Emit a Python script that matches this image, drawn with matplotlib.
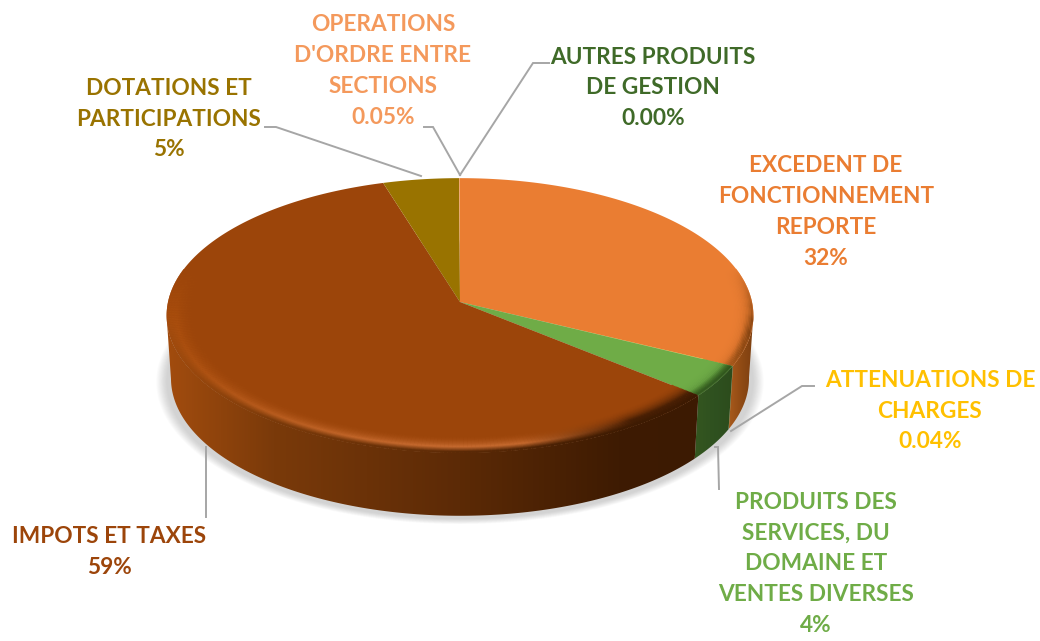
import numpy as np
import matplotlib
matplotlib.use("Agg")
import matplotlib.pyplot as plt
from matplotlib.collections import LineCollection
from matplotlib.colors import LinearSegmentedColormap, to_rgb
from matplotlib.patches import Polygon

plt.rcParams["font.family"] = ["Lato", "DejaVu Sans"]

categories = ["EXCEDENT DE FONCTIONNEMENT REPORTE", "ATTENUATIONS DE CHARGES",
              "PRODUITS DES SERVICES, DU DOMAINE ET VENTES DIVERSES",
              "IMPOTS ET TAXES", "DOTATIONS ET PARTICIPATIONS",
              "OPERATIONS D'ORDRE ENTRE SECTIONS", "AUTRES PRODUITS DE GESTION"]
values = [32.4, 0.04, 3.7, 59.2, 4.6, 0.05, 0.0]
top_colors = ["#ea7d32", "#ffc000", "#6fac47", "#9c450a", "#997300", "#f4995c", "#3f6a28"]

# side wall colours, left to right
side_colors = {
    0: ["#a85a1c", "#8f4a14", "#7c3f10"],
    1: ["#7f6000", "#7f6000", "#7f6000"],
    2: ["#34561f", "#2f5120", "#2c4c1c"],
    3: [(0, "#a24c0e"), (0.2, "#7a3a0a"), (0.55, "#5c2a06"), (0.85, "#3e1b02"), (1, "#3c1a02")],
}

# perspective of the pie, in pixels
CX, CY = 460, 302
A, B, K = 292, 136, 0.098
DEPTH = 63


def project(u, v):
    w = 1 + K * v
    return CX + A * u / w, CY - B * v / w


def blend(c1, c2, t):
    return tuple(np.array(to_rgb(c1)) * (1 - t) + np.array(to_rgb(c2)) * t)


fig = plt.figure(figsize=(10.4, 6.41), dpi=100)
ax = fig.add_axes([0, 0, 1, 1])

wedges, _ = ax.pie(values, startangle=90, counterclock=False, colors=top_colors)
thetas = [(w.theta1, w.theta2) for w in wedges]
for w in wedges:
    w.remove()

# soft shadow under the pie
t = np.radians(np.linspace(0, 360, 361))
sx, sy = project(np.cos(t), np.sin(t))
for grow in np.linspace(1.035, 1.0, 12):
    ax.add_patch(Polygon(np.c_[CX + (sx - CX) * grow, CY + DEPTH + 3 + (sy - CY) * grow],
                         fc="#808080", ec="none", alpha=0.03, zorder=1))

# side walls, starting where the rim is widest
wall_maps = {}
wall_span = {}
for i, (th1, th2) in enumerate(thetas):
    if i not in side_colors:
        continue
    t = np.radians(np.linspace(th1, th2, 300))
    t = t[np.sin(t) < -0.09]
    if len(t) < 2:
        continue
    rx, ry = project(np.cos(t), np.sin(t))
    bx = CX + (rx - CX) * 0.985
    outline = np.r_[np.c_[rx, ry], np.c_[bx, ry + DEPTH][::-1]]
    cmap = LinearSegmentedColormap.from_list("side", side_colors[i])
    x0, x1 = outline[:, 0].min(), outline[:, 0].max()
    wall_maps[i] = cmap
    wall_span[i] = (x0, x1)
    img = ax.imshow(np.linspace(0, 1, 256)[None, :], cmap=cmap, aspect="auto",
                    extent=(x0, x1, outline[:, 1].max(), outline[:, 1].min()), zorder=2)
    clip = Polygon(outline, transform=ax.transData, fc="none", ec="none")
    ax.add_patch(clip)
    img.set_clip_path(clip)

# top faces
for i, (th1, th2) in enumerate(thetas):
    if values[i] == 0:
        continue
    t = np.radians(np.linspace(th1, th2, 300))
    px, py = project(np.r_[0, np.cos(t)], np.r_[0, np.sin(t)])
    ax.add_patch(Polygon(np.c_[px, py], fc=top_colors[i], ec="none", zorder=3))

# rounded rim along the front of the top face
rim_steps = np.linspace(0.90, 0.996, 20)
for i, (th1, th2) in enumerate(thetas):
    if values[i] < 1:
        continue
    t = np.radians(np.linspace(th1, th2, 300))
    t = t[np.sin(t) < 0.25]
    if len(t) < 2:
        continue
    for r in rim_steps:
        x, y = project(r * np.cos(t), r * np.sin(t))
        pts = np.c_[x, y]
        segs = np.stack([pts[:-1], pts[1:]], axis=1)
        ramp = (r - rim_steps[0]) / (rim_steps[-1] - rim_steps[0])
        tm = t[:-1]
        fade = np.clip((0.25 - np.sin(tm)) / 0.4, 0, 1)
        if i == 3:
            # warm on the left, lightest at the front, dark towards the right
            front = np.clip(-np.sin(tm), 0, 1) ** 2
            right = np.clip((np.cos(tm) - 0.2) / 0.35, 0, 1)
            rim_col = [blend(blend("#b4540f", "#c76b30", f), "#4a2004", q)
                       for f, q in zip(front, right)]
            strength = np.clip(ramp / 0.7, 0, 1) ** 2 * (0.55 + 0.45 * front) * fade
            strength = np.maximum(strength, np.clip(ramp / 0.7, 0, 1) ** 2 * right)
        elif i == 0:
            rim_col = ["#8f4a14"] * len(tm)
            strength = ramp ** 5 * fade
        else:
            rim_col = ["#3f6a28"] * len(tm)
            strength = ramp ** 4 * fade
        cols = [blend(top_colors[i], c, q) for c, q in zip(rim_col, strength)]
        # last part of the rim rolls over into the wall colour
        if i in wall_maps and ramp > 0.7:
            x0, x1 = wall_span[i]
            roll = (ramp - 0.7) / 0.3
            wall = wall_maps[i](np.clip((x[:-1] - x0) / (x1 - x0), 0, 1))
            below = np.clip((-0.09 - np.sin(tm)) / 0.15, 0, 1)
            cols = [blend(c, w[:3], roll * b) for c, w, b in zip(cols, wall, below)]
        ax.add_collection(LineCollection(segs, colors=cols, linewidths=1.6,
                                         capstyle="butt", zorder=4))

# leader lines
leaders = [
    ([424, 433, 460], [127, 127, 175]),
    ([549, 533, 460], [63, 63, 175]),
    ([265, 276, 421], [127, 127, 176]),
    ([206, 206], [447, 517]),
    ([715, 718, 719], [447, 447, 489]),
    ([814, 802, 731], [386, 386, 431]),
]
for lx, ly in leaders:
    ax.plot(lx, ly, color="#a6a6a6", lw=1.4, solid_joinstyle="miter", zorder=6)

# labels
labels = [
    (826, 212, "EXCEDENT DE\nFONCTIONNEMENT\nREPORTE\n32%", "#ea7d32"),
    (930, 411, "ATTENUATIONS DE\nCHARGES\n0.04%", "#ffc000"),
    (816, 564, "PRODUITS DES\nSERVICES, DU\nDOMAINE ET\nVENTES DIVERSES\n4%", "#6fac47"),
    (109, 552, "IMPOTS ET TAXES\n59%", "#9c450a"),
    (169, 119, "DOTATIONS ET\nPARTICIPATIONS\n5%", "#997300"),
    (383, 71, "OPERATIONS\nD'ORDRE ENTRE\nSECTIONS\n0.05%", "#f4995c"),
    (653, 88, "AUTRES PRODUITS\nDE GESTION\n0.00%", "#3f6a28"),
]
for x, y, txt, col in labels:
    ax.text(x, y, txt, color=col, fontsize=16.3, fontweight="bold", ha="center", va="center",
            linespacing=1.58, zorder=7)

ax.set_xlim(0, 1040)
ax.set_ylim(641, 0)
ax.set_aspect("auto")
ax.axis("off")

fig.savefig("out.png", dpi=100)
